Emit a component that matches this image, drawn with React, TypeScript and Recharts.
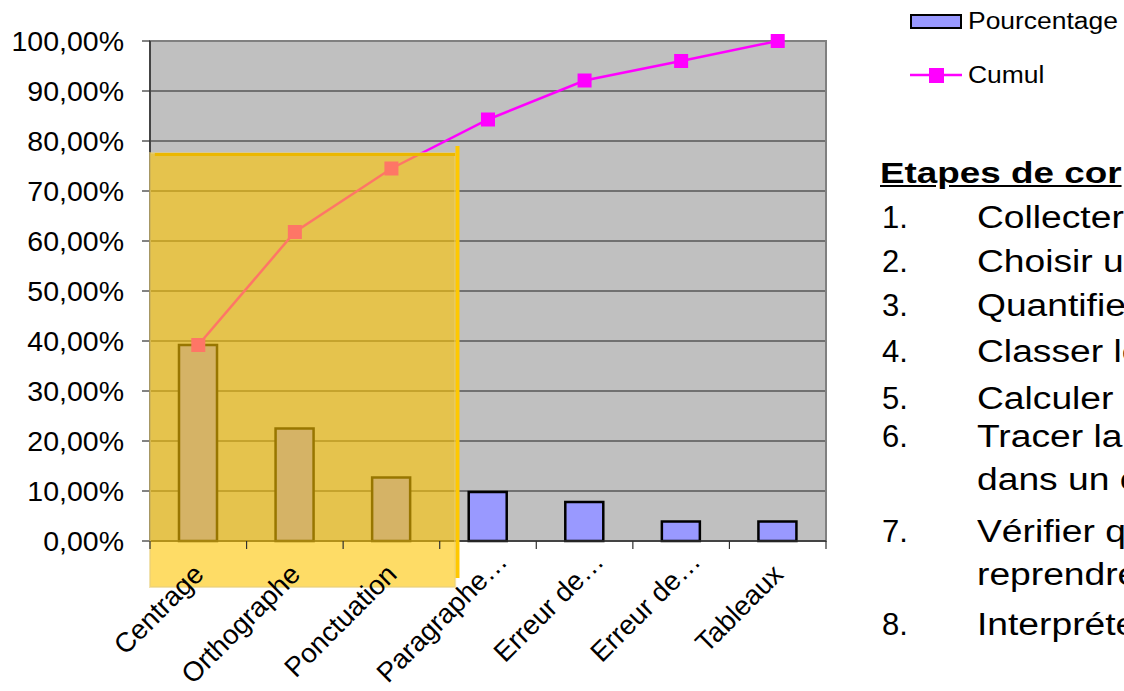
import React from 'react';
import {
  ComposedChart,
  Bar,
  Line,
  XAxis,
  YAxis,
  CartesianGrid,
  ReferenceArea,
  ReferenceLine,
  Legend,
} from 'recharts';

const categories = ['Centrage', 'Orthographe', 'Ponctuation', 'Paragraphe…', 'Erreur de…', 'Erreur de…', 'Tableaux'];
const pourcentage = [39.2, 22.5, 12.7, 9.8, 7.8, 3.9, 3.9];
const cumul = [39.2, 61.8, 74.5, 84.3, 92.1, 96.0, 100.0];
const yTicks = [0, 10, 20, 30, 40, 50, 60, 70, 80, 90, 100];

const stepTitle = 'Etapes de cor';
const stepNumbers = ['1.', '2.', '3.', '4.', '5.', '6.', '', '7.', '', '8.'];
const stepTexts = ['Collecter', 'Choisir u', 'Quantifie', 'Classer le', 'Calculer', 'Tracer la', 'dans un c', 'Vérifier q', 'reprendre', 'Interpréte'];

// highlight box (annotation) in axis units (0..7 = category bands)
const boxX = [0, 3.16];
const boxY = [-9.2, 77.6];

const data = categories.map((label, i) => ({
  key: String(i),
  label,
  Pourcentage: pourcentage[i],
  Cumul: cumul[i],
}));

const FONT = '"Liberation Sans", Arial, sans-serif';

const fmtPct = (v: number) => v.toFixed(2).replace('.', ',') + '%';

const XTick = (props: any) => {
  const { x, y, payload, index } = props;
  const off = payload && payload.offset ? payload.offset : 0;
  const label = categories[Number(payload.value)];
  const ell = label.endsWith('…');
  const ax = x + 7 + (ell ? 14 : 0);
  const ay = y + 35 - (ell ? 13 : 0);
  return (
    <g>
      <line x1={x - off} x2={x - off} y1={y} y2={y + 8} stroke="#303030" strokeWidth={1.2} />
      {index === categories.length - 1 && (
        <line x1={x + off} x2={x + off} y1={y} y2={y + 8} stroke="#303030" strokeWidth={1.2} />
      )}
      <text
        x={ax}
        y={ay}
        transform={`rotate(-45 ${ax} ${ay})`}
        textAnchor="end"
        fontSize={27.5}
        fontFamily={FONT}
        fill="#000"
      >
        {label}
      </text>
    </g>
  );
};

const SquareDot = (props: any) => {
  const { cx, cy } = props;
  if (cx == null || cy == null) return null;
  return <rect x={cx - 7} y={cy - 7} width={14} height={14} fill="#FF00FF" />;
};

const LegendContent = () => (
  <div style={{ fontFamily: FONT, fontSize: 23, color: '#000' }}>
    <div style={{ display: 'flex', alignItems: 'center', height: 42 }}>
      <div
        style={{
          width: 48,
          height: 11,
          background: '#9999FF',
          border: '2.5px solid #000',
          marginRight: 6,
        }}
      />
      <span style={{ display: 'inline-block', transform: 'scaleX(1.15)', transformOrigin: 'left center' }}>
        Pourcentage
      </span>
    </div>
    <div style={{ display: 'flex', alignItems: 'center', height: 66 }}>
      <svg width={54} height={20} style={{ marginRight: 4 }}>
        <line x1={0} x2={52} y1={10} y2={10} stroke="#FF00FF" strokeWidth={2.5} />
        <rect x={19} y={3} width={15} height={15} fill="#FF00FF" />
      </svg>
      <span style={{ display: 'inline-block', transform: 'scaleX(1.15)', transformOrigin: 'left center' }}>
        Cumul
      </span>
    </div>
  </div>
);

const stepTops = [198, 242, 286, 332, 379, 417, 460, 512, 555, 605];

export default function App() {
  return (
    <div
      style={{
        position: 'absolute',
        left: 0,
        top: 0,
        width: 1124,
        height: 691,
        overflow: 'hidden',
        background: '#fff',
        fontFamily: FONT,
      }}
    >
      <ComposedChart
        width={1124}
        height={691}
        data={data}
        margin={{ top: 41, right: 298, bottom: 0, left: 0 }}
      >
        <CartesianGrid vertical={false} stroke="#222" fill="#C0C0C0" />
        <XAxis
          dataKey="key"
          type="category"
          height={150}
          interval={0}
          tickLine={false}
          tickSize={0}
          tickMargin={0}
          axisLine={{ stroke: '#303030', strokeWidth: 1.5 }}
          tick={<XTick />}
        />
        <XAxis
          xAxisId="num"
          dataKey="nx"
          type="number"
          domain={[0, 7]}
          ticks={[0, 7]}
          hide
          allowDataOverflow
        />
        <YAxis
          width={150}
          domain={[0, 100]}
          ticks={yTicks}
          interval={0}
          tickFormatter={fmtPct}
          tickSize={8}
          tickMargin={18}
          axisLine={{ stroke: '#303030', strokeWidth: 1.5 }}
          tickLine={{ stroke: '#303030', strokeWidth: 1.2 }}
          tick={{ fontSize: 28.5, fill: '#000', fontFamily: FONT }}
        />
        <Legend
          layout="horizontal"
          verticalAlign="middle"
          align="center"
          content={<LegendContent />}
          wrapperStyle={{ position: 'absolute', left: 910, top: 0, width: 214, height: 110 }}
        />
        <Bar
          dataKey="Pourcentage"
          fill="#9999FF"
          stroke="#000"
          strokeWidth={2.5}
          barSize={38}
          isAnimationActive={false}
        />
        <Line
          dataKey="Cumul"
          type="linear"
          stroke="#FF00FF"
          strokeWidth={2.5}
          dot={<SquareDot />}
          activeDot={false}
          isAnimationActive={false}
        />
        <ReferenceArea
          xAxisId="num"
          x1={0}
          x2={7}
          y1={0}
          y2={100}
          fill="none"
          stroke="#808080"
          strokeWidth={2}
          ifOverflow="visible"
        />
        <ReferenceArea
          xAxisId="num"
          x1={boxX[0]}
          x2={boxX[1]}
          y1={boxY[0]}
          y2={boxY[1]}
          fill="#FDC500"
          fillOpacity={0.6}
          stroke="#E8CF7A"
          strokeOpacity={0.6}
          strokeWidth={2}
          ifOverflow="visible"
          zIndex={1500}
        />
        <ReferenceLine
          xAxisId="num"
          segment={[
            { x: 0.05, y: 77.3 },
            { x: boxX[1], y: 77.3 },
          ]}
          stroke="#EBB700"
          strokeWidth={3}
          ifOverflow="visible"
          zIndex={1600}
        />
        <ReferenceLine
          xAxisId="num"
          segment={[
            { x: 3.184, y: 79 },
            { x: 3.184, y: -7.4 },
          ]}
          stroke="#FFC800"
          strokeWidth={4}
          ifOverflow="visible"
          zIndex={1600}
        />
      </ComposedChart>
      <div
        style={{
          position: 'absolute',
          left: 880,
          top: 0,
          width: 244,
          height: 691,
          overflow: 'hidden',
          color: '#000',
          whiteSpace: 'nowrap',
        }}
      >
        <div
          style={{
            position: 'absolute',
            left: 0,
            top: 157,
            fontSize: 29,
            fontWeight: 'bold',
            textDecoration: 'underline',
            transform: 'scaleX(1.27)',
            transformOrigin: 'left top',
          }}
        >
          {stepTitle}
        </div>
        {stepTexts.map((t, i) => (
          <div key={i} style={{ position: 'absolute', left: 0, top: stepTops[i], fontSize: 31, lineHeight: '40px' }}>
            <span style={{ position: 'absolute', left: 2 }}>{stepNumbers[i]}</span>
            <span
              style={{
                position: 'absolute',
                left: 97,
                display: 'inline-block',
                transform: 'scaleX(1.2)',
                transformOrigin: 'left center',
              }}
            >
              {t}
            </span>
          </div>
        ))}
      </div>
    </div>
  );
}
